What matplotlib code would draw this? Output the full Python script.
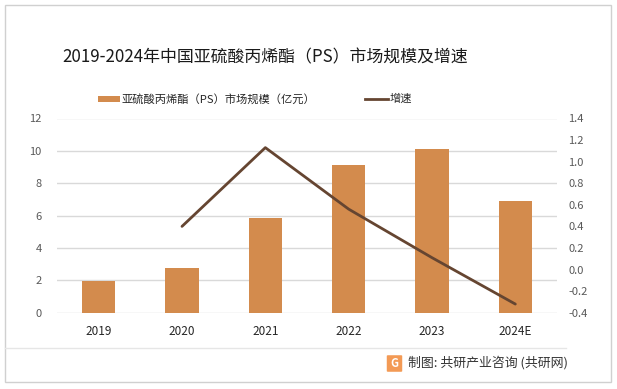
import matplotlib
matplotlib.use("Agg")
import matplotlib.pyplot as plt
from matplotlib.patches import Rectangle, FancyBboxPatch
from matplotlib.lines import Line2D

plt.rcParams['font.family'] = ['Noto Sans CJK SC', 'DejaVu Sans']

years = ['2019', '2020', '2021', '2022', '2023', '2024E']
market_size = [1.98, 2.78, 5.86, 9.15, 10.12, 6.91]
growth_years = ['2020', '2021', '2022', '2023', '2024E']
growth = [0.40, 1.13, 0.56, 0.11, -0.32]
left_ticks = [0, 2, 4, 6, 8, 10, 12]
right_ticks = [-0.4, -0.2, 0.0, 0.2, 0.4, 0.6, 0.8, 1.0, 1.2, 1.4]

title = '2019-2024年中国亚硫酸丙烯酯（PS）市场规模及增速'
bar_label = '亚硫酸丙烯酯（PS）市场规模（亿元）'
line_label = '增速'
source = '制图: 共研产业咨询 (共研网)'

bar_color = '#D38B4D'
line_color = '#654531'

fig = plt.figure(figsize=(6.17, 3.89), dpi=100)
W, H = 617, 389

ax = fig.add_axes([57 / W, 1 - 312.7 / H, 500 / W, 194.2 / H])
x = list(range(len(years)))
ax.bar(x, market_size, width=0.4, color=bar_color, zorder=2)
ax.set_xlim(-0.5, len(years) - 0.5)
ax.set_ylim(0, 12)
ax.set_yticks(left_ticks)
ax.set_yticklabels([str(t) for t in left_ticks])
ax.set_xticks(x)
ax.set_xticklabels(years)
ax.grid(axis='y', color='#D9D9D9', linewidth=1, zorder=0)
for s in ax.spines.values():
    s.set_visible(False)
ax.tick_params(axis='y', length=0, pad=11, labelsize=8, labelcolor='#595959')
ax.tick_params(axis='x', length=0, pad=9, labelsize=8.5, labelcolor='#262626')

ax2 = ax.twinx()
gx = [years.index(y) for y in growth_years]
ax2.plot(gx, growth, color=line_color, linewidth=2, zorder=3, solid_capstyle='round')
ax2.set_ylim(-0.4, 1.4)
ax2.set_yticks(right_ticks)
ax2.set_yticklabels([f'{t:.1f}' for t in right_ticks])
for s in ax2.spines.values():
    s.set_visible(False)
ax2.tick_params(axis='y', length=0, pad=8, labelsize=8, labelcolor='#595959')

# title
fig.text(265 / W, 1 - 57 / H, title, ha='center', va='center', fontsize=12.2, color='#1a1a1a')

# legend (manual)
fig.patches.append(Rectangle((98 / W, 1 - 102 / H), 22 / W, 6 / H, transform=fig.transFigure,
                             facecolor=bar_color, edgecolor='none'))
fig.text(122 / W, 1 - 99 / H, bar_label, ha='left', va='center', fontsize=8.1, color='#262626')
fig.lines.append(Line2D([365 / W, 388 / W], [1 - 99 / H, 1 - 99 / H], transform=fig.transFigure,
                        color=line_color, linewidth=2))
fig.text(390 / W, 1 - 99 / H, line_label, ha='left', va='center', fontsize=8.1, color='#262626')

# frame and footer separator
fig.patches.append(Rectangle((5 / W, 1 - 382 / H), 606 / W, 377 / H, transform=fig.transFigure,
                             facecolor='none', edgecolor='#D0D0D0', linewidth=1))
fig.lines.append(Line2D([5 / W, 566 / W], [1 - 348 / H, 1 - 348 / H], transform=fig.transFigure,
                        color='#E6E6E6', linewidth=1))

# logo + source
fig.patches.append(FancyBboxPatch((388 / W, 1 - 371 / H), 13 / W, 15 / H,
                                  boxstyle='round,pad=0.002', transform=fig.transFigure,
                                  facecolor='#F39A55', edgecolor='none'))
fig.text(394.5 / W, 1 - 363.5 / H, 'G', ha='center', va='center', fontsize=8, color='white',
         fontweight='bold')
fig.text(408 / W, 1 - 363 / H, source, ha='left', va='center', fontsize=9.3, color='#333333')

fig.savefig('out.png', dpi=100)
